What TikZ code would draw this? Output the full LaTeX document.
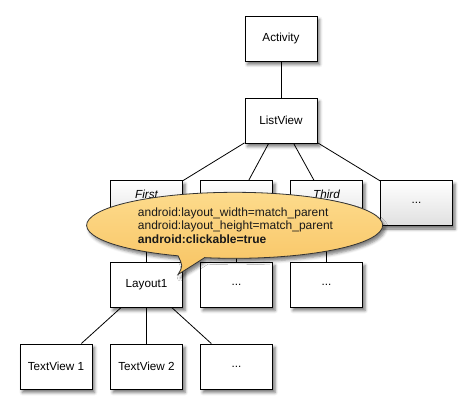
\documentclass[tikz,border=0pt]{standalone}
\usepackage{fontspec}
\setmainfont{Liberation Sans}
\usetikzlibrary{shadows.blur}
\definecolor{calloutTop}{HTML}{FDDC8E}
\definecolor{calloutBot}{HTML}{F8C463}
\definecolor{rowgray}{HTML}{E0E0E0}
\tikzset{
  box/.style={draw=black, line width=0.9pt, fill=white, minimum width=72pt, minimum height=45pt,
    inner sep=0pt, font=\fontsize{11.7}{13}\selectfont,
    blur shadow={shadow xshift=2.5pt, shadow yshift=-3.5pt, shadow blur radius=3pt, shadow opacity=55}},
  gbox/.style={box, top color=white, bottom color=rowgray},
  link/.style={draw=black, line width=0.8pt},
  callout/.style={draw=black!80, line width=0.8pt, top color=calloutTop, bottom color=calloutBot,
    blur shadow={shadow xshift=2.5pt, shadow yshift=-3.5pt, shadow blur radius=3pt, shadow opacity=50}},
  ctext/.style={align=left, inner sep=0pt, text=black!90, font=\fontsize{12}{13.5}\selectfont},
  ital/.style={inner sep=0pt, font=\fontsize{11.7}{13}\selectfont\itshape}
}
\begin{document}
\begin{tikzpicture}[x=1pt, y=-1pt]
\useasboundingbox (0,0) rectangle (472,414);
% nodes
\node[box] (act) at (281,38.5) {Activity};
\node[box] (lv) at (281,120.5) {ListView};
\node[gbox] (r1) at (146.5,203) {};
\node[gbox] (r2) at (236.5,203) {};
\node[gbox] (r3) at (326.5,203) {};
\node[gbox] (r4) at (416.5,203) {...};
\node[ital] (t1) at (146.5,194) {First};
\node[ital] (t3) at (326.5,194) {Third};
\node[box] (l1) at (146.5,284.5) {Layout1};
\node[box] (l2) at (236.5,284.5) {...};
\node[box] (l3) at (326.5,284.5) {...};
\node[box] (tv1) at (56,366.5) {TextView 1};
\node[box] (tv2) at (146.5,366.5) {TextView 2};
\node[box] (tv3) at (236.5,366.5) {...};
% connectors
\draw[link] (act) -- (lv);
\draw[link] (lv) -- (r1);
\draw[link] (lv) -- (r2);
\draw[link] (lv) -- (r3);
\draw[link] (lv) -- (r4);
\draw[link] (r1) -- (l1);
\draw[link] (r2) -- (l2);
\draw[link] (r3) -- (l3);
\draw[link] (l1) -- (tv1);
\draw[link] (l1) -- (tv2);
\draw[link] (l1) -- (tv3);
% callout
\path[callout] (178,255.8) arc[start angle=247.5, end angle=-101.7, x radius=148pt, y radius=33pt]
  .. controls (190,267) .. (178,274.5) .. controls (183,266) .. (178,255.8) -- cycle;
\node[ctext] (ct) at (235.5,225.5) {android:layout\_width=match\_parent\\android:layout\_height=match\_parent\\\textbf{android:clickable=true}};
\end{tikzpicture}
\end{document}
